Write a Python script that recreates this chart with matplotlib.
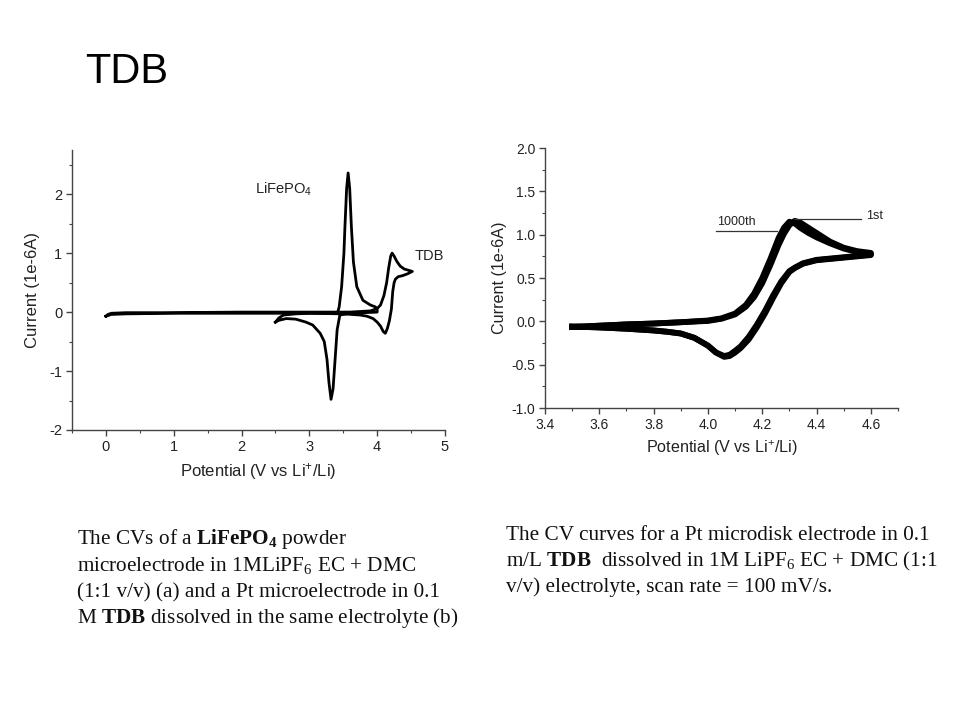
import matplotlib
matplotlib.use('Agg')
import matplotlib.pyplot as plt
from matplotlib.ticker import MultipleLocator

plt.rcParams['font.family'] = ['Liberation Sans', 'DejaVu Sans']
plt.rcParams['axes.unicode_minus'] = False
plt.rcParams['mathtext.fontset'] = 'custom'
plt.rcParams['mathtext.rm'] = 'Liberation Serif'
plt.rcParams['mathtext.bf'] = 'Liberation Serif:bold'
plt.rcParams['mathtext.default'] = 'regular'

# ---- left chart: LiFePO4 and TDB CVs (current in 1e-6 A) ----
lfp_fwd_v = [2.5, 2.55, 2.62, 2.8, 3.0, 3.3, 3.42, 3.44, 3.476, 3.51, 3.525, 3.55,
             3.572, 3.595, 3.62, 3.65, 3.70, 3.79, 3.9, 3.97, 4.0]
lfp_fwd_i = [-0.17, -0.1, -0.05, -0.03, -0.02, -0.02, 0.0, 0.09, 0.43, 1.0, 1.45, 2.1,
             2.36, 2.1, 1.45, 0.85, 0.43, 0.2, 0.12, 0.09, 0.06]
lfp_rev_v = [4.0, 3.8, 3.6, 3.45, 3.41, 3.38, 3.35, 3.32, 3.29, 3.26, 3.22, 3.16,
             3.05, 2.95, 2.8, 2.66, 2.55, 2.5]
lfp_rev_i = [0.0, -0.01, -0.02, -0.05, -0.3, -0.8, -1.3, -1.48, -1.2, -0.8, -0.5, -0.36,
             -0.22, -0.17, -0.12, -0.11, -0.14, -0.17]

tdb_fwd_v = [0.0, 0.03, 0.08, 0.3, 1.0, 2.0, 3.0, 3.6, 3.9, 4.0, 4.05, 4.1, 4.14,
             4.17, 4.2, 4.22, 4.25, 4.29, 4.34, 4.4, 4.46, 4.52]
tdb_fwd_i = [-0.07, -0.04, -0.02, -0.01, -0.01, 0.0, 0.0, 0.0, 0.02, 0.06, 0.12, 0.28,
             0.5, 0.75, 0.95, 1.0, 0.95, 0.86, 0.78, 0.73, 0.71, 0.69]
tdb_rev_v = [4.52, 4.45, 4.38, 4.31, 4.27, 4.25, 4.23, 4.21, 4.18, 4.15, 4.12, 4.09,
             4.05, 4.0, 3.94, 3.85, 3.75, 3.5, 3.0, 2.0, 1.0, 0.3, 0.08, 0.0]
tdb_rev_i = [0.69, 0.65, 0.62, 0.60, 0.56, 0.50, 0.35, 0.05, -0.15, -0.28, -0.36, -0.33,
             -0.24, -0.17, -0.11, -0.07, -0.05, -0.03, -0.02, -0.02, -0.02, -0.03, -0.04, -0.07]

# ---- right chart: Pt microdisk, 1st and 1000th cycle ----
fwd_v = [3.5, 3.6, 3.7, 3.8, 3.9, 4.0, 4.05, 4.1, 4.14, 4.17, 4.2, 4.23, 4.26, 4.28,
         4.3, 4.32, 4.34, 4.37, 4.4, 4.45, 4.5, 4.55, 4.6]
fwd_1st = [-0.065, -0.05, -0.035, -0.025, -0.01, 0.005, 0.03, 0.08, 0.17, 0.28, 0.44,
           0.65, 0.88, 1.01, 1.11, 1.16, 1.14, 1.08, 1.02, 0.92, 0.85, 0.81, 0.79]
fwd_1000 = [-0.065, -0.05, -0.035, -0.025, -0.01, 0.01, 0.035, 0.09, 0.19, 0.32, 0.50,
            0.72, 0.96, 1.08, 1.15, 1.13, 1.08, 1.02, 0.97, 0.90, 0.84, 0.80, 0.78]
rev_v = [4.6, 4.55, 4.5, 4.45, 4.4, 4.35, 4.32, 4.3, 4.27, 4.24, 4.21, 4.18, 4.15,
         4.12, 4.1, 4.08, 4.06, 4.03, 4.0, 3.95, 3.9, 3.85, 3.8, 3.7, 3.6, 3.5]
rev_1st = [0.77, 0.755, 0.74, 0.725, 0.71, 0.67, 0.62, 0.58, 0.46, 0.30, 0.12, -0.04,
           -0.18, -0.29, -0.34, -0.385, -0.40, -0.36, -0.28, -0.19, -0.14, -0.12, -0.105,
           -0.085, -0.07, -0.06]
rev_1000 = [0.765, 0.75, 0.735, 0.72, 0.705, 0.665, 0.615, 0.57, 0.44, 0.27, 0.09, -0.07,
            -0.21, -0.31, -0.36, -0.40, -0.41, -0.36, -0.28, -0.19, -0.14, -0.12, -0.105,
            -0.085, -0.07, -0.06]

left_caption = [r'The CVs of a $\mathbf{LiFePO_4}$ powder',
                r'microelectrode in 1MLiPF$_6$ EC + DMC',
                r'(1:1 v/v) (a) and a Pt microelectrode in 0.1',
                r'M $\mathbf{TDB}$ dissolved in the same electrolyte (b)']
right_caption = [r'The CV curves for a Pt microdisk electrode in 0.1',
                 r'm/L $\mathbf{TDB}$  dissolved in 1M LiPF$_6$ EC + DMC (1:1',
                 r'v/v) electrolyte, scan rate = 100 mV/s.']

fig = plt.figure(figsize=(9.6, 7.2), dpi=100)
fig.text(0.089, 0.885, 'TDB', fontsize=30, va='baseline', ha='left')


def style_axes(ax, tick_size):
    for s in ['top', 'right']:
        ax.spines[s].set_visible(False)
    for s in ['left', 'bottom']:
        ax.spines[s].set_linewidth(1.0)
        ax.spines[s].set_color('#444444')
    ax.tick_params(which='major', direction='out', length=4, width=1, pad=3,
                   labelsize=tick_size, colors='#444444', labelcolor='#222222')
    ax.tick_params(which='minor', direction='out', length=2.5, width=0.8, colors='#444444')


# left plot
ax1 = fig.add_axes([0.075, 0.4028, 0.3885, 0.3889])
ax1.plot(lfp_fwd_v + lfp_rev_v, lfp_fwd_i + lfp_rev_i, color='black', lw=2)
ax1.plot(tdb_fwd_v + tdb_rev_v, tdb_fwd_i + tdb_rev_i, color='black', lw=2)
ax1.set_xlim(-0.5, 5)
ax1.set_ylim(-2, 2.75)
ax1.set_xticks([0, 1, 2, 3, 4, 5])
ax1.set_yticks([-2, -1, 0, 1, 2])
ax1.xaxis.set_minor_locator(MultipleLocator(0.5))
ax1.yaxis.set_minor_locator(MultipleLocator(0.5))
style_axes(ax1, 10.5)
ax1.set_xlabel(r'Potential (V vs Li$^{+}$/Li)', fontsize=12, color='#222222', labelpad=5)
ax1.set_ylabel('Current (1e-6A)', fontsize=12, color='#222222', labelpad=7)
ax1.text(2.2, 2.08, r'LiFePO$_4$', fontsize=10.5, va='center', ha='left', color='#222222')
ax1.text(4.56, 0.95, 'TDB', fontsize=10.5, va='center', ha='left', color='#222222')

# right plot
ax2 = fig.add_axes([0.5677, 0.4333, 0.3677, 0.3611])
ax2.plot(fwd_v + rev_v, fwd_1st + rev_1st, color='black', lw=4.2)
ax2.plot(fwd_v + rev_v, fwd_1000 + rev_1000, color='black', lw=4.2)
ax2.set_xlim(3.4, 4.7)
ax2.set_ylim(-1.0, 2.0)
ax2.set_xticks([3.4, 3.6, 3.8, 4.0, 4.2, 4.4, 4.6])
ax2.set_yticks([-1.0, -0.5, 0.0, 0.5, 1.0, 1.5, 2.0])
ax2.set_xticklabels(['3.4', '3.6', '3.8', '4.0', '4.2', '4.4', '4.6'])
ax2.set_yticklabels(['-1.0', '-0.5', '0.0', '0.5', '1.0', '1.5', '2.0'])
ax2.xaxis.set_minor_locator(MultipleLocator(0.1))
ax2.yaxis.set_minor_locator(MultipleLocator(0.25))
style_axes(ax2, 10)
ax2.set_xlabel(r'Potential (V vs Li$^{+}$/Li)', fontsize=11.6, color='#222222', labelpad=5)
ax2.set_ylabel('Current (1e-6A)', fontsize=11.6, color='#222222', labelpad=3)
ax2.plot([4.029, 4.256], [1.04, 1.04], color='#333333', lw=0.9)
ax2.text(4.035, 1.075, '1000th', fontsize=9, va='bottom', ha='left', color='#222222')
ax2.plot([4.317, 4.563], [1.18, 1.18], color='#333333', lw=0.9)
ax2.text(4.582, 1.21, '1st', fontsize=9, va='center', ha='left', color='#222222')

# captions
left_base = [544, 571, 597.5, 623.5]
for line, yb in zip(left_caption, left_base):
    fig.text(77 / 960, 1 - yb / 720, line, fontsize=15.3, va='baseline', ha='left',
             family='Liberation Serif', color='#111111')
right_base = [540, 566, 592]
for line, yb in zip(right_caption, right_base):
    fig.text(506 / 960, 1 - yb / 720, line, fontsize=15.3, va='baseline', ha='left',
             family='Liberation Serif', color='#111111')

fig.savefig('out.png', dpi=100)
